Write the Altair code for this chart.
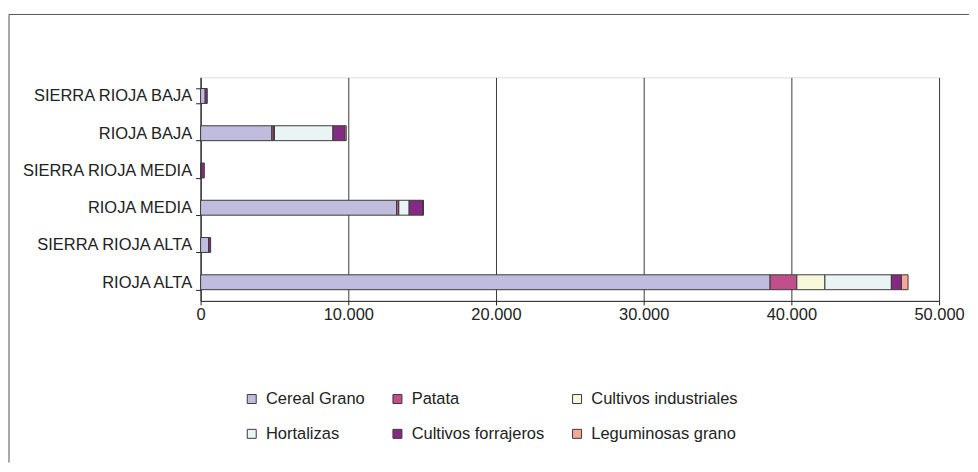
import altair as alt
import pandas as pd

regions = ["SIERRA RIOJA BAJA", "RIOJA BAJA", "SIERRA RIOJA MEDIA",
           "RIOJA MEDIA", "SIERRA RIOJA ALTA", "RIOJA ALTA"]
crops = ["Cereal Grano", "Patata", "Cultivos industriales",
         "Hortalizas", "Cultivos forrajeros", "Leguminosas grano"]
colors = ["#c0bcdd", "#c0508a", "#f8f8dc", "#eaf4f4", "#852a84", "#f5a89a"]

# values per crop, in the order of `regions`
cereal_grano = [310, 4820, 40, 13270, 540, 38560]
patata = [0, 110, 0, 130, 0, 1810]
cultivos_industriales = [0, 70, 0, 20, 0, 1900]
hortalizas = [0, 3960, 0, 700, 0, 4500]
cultivos_forrajeros = [140, 810, 210, 940, 140, 680]
leguminosas_grano = [0, 90, 0, 30, 0, 450]

series = [cereal_grano, patata, cultivos_industriales, hortalizas,
          cultivos_forrajeros, leguminosas_grano]

rows = []
for ci, (crop, vals) in enumerate(zip(crops, series)):
    for reg, v in zip(regions, vals):
        if v > 0:
            rows.append({"region": reg, "crop": crop, "value": v, "order": ci})
df = pd.DataFrame(rows)

FONT = "Liberation Sans"
FS = 16.5

bars = alt.Chart(df).mark_bar(stroke="#3a3a3a", strokeWidth=1).encode(
    y=alt.Y("region:N", sort=regions,
            scale=alt.Scale(paddingInner=0.6, paddingOuter=0.3),
            axis=alt.Axis(title=None, labelFontSize=FS, labelColor="#222",
                          labelFont=FONT, labelPadding=4, tickSize=5,
                          tickBand="extent", domainColor="#222",
                          tickColor="#222", grid=False, labelLimit=300)),
    x=alt.X("value:Q", stack="zero",
            scale=alt.Scale(domain=[0, 50000], nice=False),
            axis=alt.Axis(title=None, values=[0, 10000, 20000, 30000, 40000, 50000],
                          labelExpr="replace(format(datum.value, ',d'), ',', '.')",
                          labelFontSize=FS, labelColor="#222", labelFont=FONT,
                          labelPadding=2, tickSize=4, domainColor="#222",
                          tickColor="#222", grid=True, gridColor="#3a3a3a",
                          gridWidth=1, labelFlush=False)),
    color=alt.Color("crop:N", sort=crops,
                    scale=alt.Scale(domain=crops, range=colors),
                    legend=alt.Legend(title=None, orient="none", legendX=43,
                                      legendY=314, columns=3, direction="horizontal",
                                      columnPadding=24, rowPadding=18,
                                      symbolType="square", symbolSize=81,
                                      symbolStrokeColor="#3a3a3a",
                                      symbolStrokeWidth=1, symbolOpacity=1,
                                      labelFontSize=FS, labelFont=FONT,
                                      labelColor="#222", labelOffset=6,
                                      labelLimit=300)),
    order=alt.Order("order:Q"),
)

frame = pd.DataFrame([{"k": 0}])
top_line = alt.Chart(frame).mark_rule(color="#555", strokeWidth=1).encode(
    x=alt.value(-192), x2=alt.value(770), y=alt.value(-63))
left_line = alt.Chart(frame).mark_rule(color="#555", strokeWidth=1).encode(
    x=alt.value(-192), y=alt.value(-63), y2=alt.value(386))

chart = alt.layer(bars, top_line, left_line).properties(
    width=740, height=224,
    padding={"left": 0, "top": 5, "right": 0, "bottom": 0},
).configure_view(stroke="#bbbbbb").configure(font=FONT)

chart.save("out.html", embed_options={"renderer": "svg", "actions": False})
